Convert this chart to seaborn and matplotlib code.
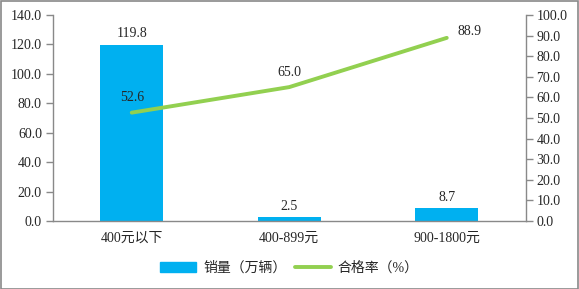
import numpy as np
import pandas as pd
import matplotlib
matplotlib.use("Agg")
import matplotlib.pyplot as plt
import seaborn as sns
from matplotlib.patches import Patch
from matplotlib.lines import Line2D

# -- data
categories = ["400元以下", "400-899元", "900-1800元"]
sales = [119.8, 2.5, 8.7]          # 销量（万辆）
pass_rate = [52.6, 65.0, 88.9]     # 合格率（%）
left_ticks = [0, 20, 40, 60, 80, 100, 120, 140]
right_ticks = [0, 10, 20, 30, 40, 50, 60, 70, 80, 90, 100]

sns.set_style("white")
plt.rcParams["font.family"] = ["Liberation Serif", "Noto Sans CJK SC", "DejaVu Sans"]

BAR = "#00B0F0"
LINE = "#92D050"
GRAY = "#898989"
TXT = "#262626"
FS = 10

df = pd.DataFrame({"cat": categories, "sales": sales, "rate": pass_rate,
                   "pos": np.arange(len(categories))})

fig = plt.figure(figsize=(5.79, 2.89), dpi=100)
ax = fig.add_axes([53 / 579, 1 - 221 / 289, 472.5 / 579, 206 / 289])

sns.barplot(data=df, x="cat", y="sales", color=BAR, width=0.4, ax=ax,
            saturation=1, edgecolor="none", linewidth=0)
ax.set_xlim(-0.5, 2.5)
ax.set_ylim(0, 140)
ax.set_yticks(left_ticks)
ax.set_yticklabels([f"{v:.1f}" for v in left_ticks], fontsize=FS, color=TXT)
ax.set_xticks(df["pos"])
ax.set_xticklabels(categories, fontsize=FS, color=TXT)
ax.set_xticks([0.5, 1.5], minor=True)
ax.tick_params(axis="x", which="major", length=0, pad=8)
ax.tick_params(axis="x", which="minor", length=5, color=GRAY, width=1)
ax.tick_params(axis="y", length=5, color=GRAY, width=1, left=True, pad=3)
ax.set_xlabel("")
ax.set_ylabel("")
for s in ["top", "right"]:
    ax.spines[s].set_visible(False)
for s in ["left", "bottom"]:
    ax.spines[s].set_color(GRAY)
    ax.spines[s].set_linewidth(1)

for p, v in zip(df["pos"], sales):
    ax.text(p, v + 3, f"{v:.1f}", ha="center", va="bottom", fontsize=FS, color=TXT)

ax2 = ax.twinx()
sns.lineplot(data=df, x="pos", y="rate", color=LINE, linewidth=2.8, ax=ax2)
ax2.set_ylim(0, 100)
ax2.set_xlim(-0.5, 2.5)
ax2.set_yticks(right_ticks)
ax2.set_yticklabels([f"{v:.1f}" for v in right_ticks], fontsize=FS, color=TXT)
ax2.tick_params(axis="y", length=5, color=GRAY, width=1, right=True, pad=3)
ax2.set_ylabel("")
ax2.set_xlabel("")
for s in ["top", "left", "bottom"]:
    ax2.spines[s].set_visible(False)
ax2.spines["right"].set_color(GRAY)
ax2.spines["right"].set_linewidth(1)

offsets = [(0, 4, "center"), (0, 4, "center"), (0.07, 0, "left")]
for p, v, (dx, dy, ha) in zip(df["pos"], pass_rate, offsets):
    ax2.text(p + dx, v + dy, f"{v:.1f}", ha=ha, va="bottom", fontsize=FS, color=TXT)

handles = [Patch(facecolor=BAR, edgecolor=BAR),
           Line2D([0], [0], color=LINE, linewidth=2.8)]
fig.legend(handles, ["销量（万辆）", "合格率（%）"], loc="center",
           bbox_to_anchor=(0.5, 1 - 268 / 289), ncol=2, frameon=False,
           fontsize=FS, handlelength=2.6, columnspacing=0.6, handletextpad=0.5,
           labelcolor=TXT)

fig.patches.append(plt.Rectangle((0.5 / 579, 0.5 / 289), 1 - 1.5 / 579, 1 - 1.5 / 289,
                                 transform=fig.transFigure, fill=False,
                                 edgecolor=GRAY, linewidth=1.2))

fig.savefig("out.png", dpi=100)
